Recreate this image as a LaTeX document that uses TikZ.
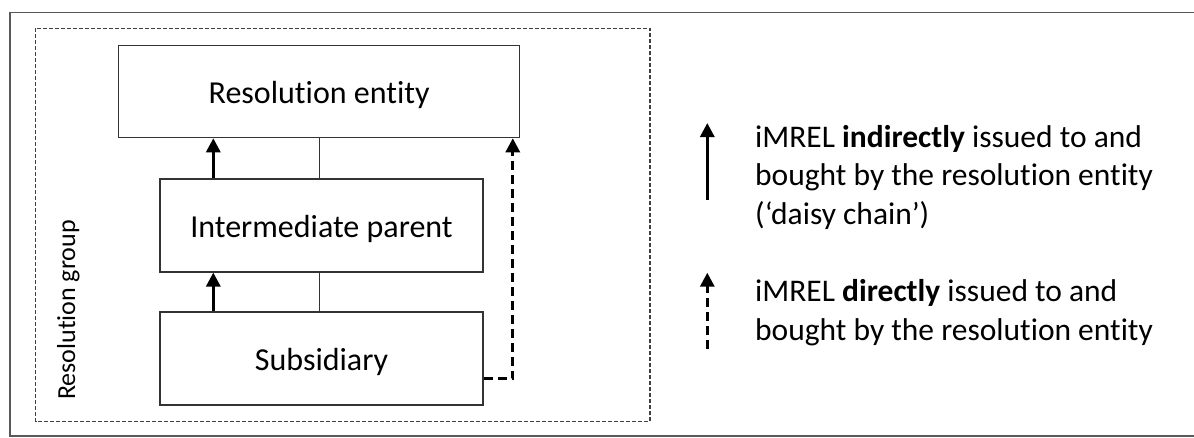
\documentclass[tikz,border=0pt]{standalone}
\usepackage{fontspec}
\setmainfont{Carlito}[Ligatures={NoCommon}]
\usetikzlibrary{arrows.meta}
\newcommand{\nti}{t\kern0pt i}
\tikzset{
  box/.style={draw=black!80, line width=1.5pt, rectangle, inner sep=0pt, text height=24pt, text depth=0pt, font=\fontsize{32}{38}\selectfont},
  thinline/.style={draw=black!80, line width=1.2pt},
  solidarrow/.style={draw=black, line width=3pt, -{Triangle[width=14pt,length=14pt]}},
  dasharrow/.style={draw=black, line width=3pt, dash pattern=on 9pt off 5pt, -{Triangle[width=14pt,length=14pt]}},
  groupbox/.style={draw=black!75, line width=1.3pt, dash pattern=on 4pt off 2pt},
  frame/.style={draw=black!65, line width=1.8pt},
  legendtext/.style={anchor=base west, align=left, inner sep=0pt, font=\fontsize{31.5}{38.5}\selectfont}
}
\begin{document}
\begin{tikzpicture}[x=1pt,y=-1pt]
\useasboundingbox (0,0) rectangle (1194,437);
% outer frame (open at right)
\draw[frame] (1194,12.5) -- (10,12.5) -- (10,436) -- (1194,436);
% resolution group
\draw[groupbox] (35.7,28.3) rectangle (650,421.7);
\node[rotate=90, anchor=base, inner sep=0pt, font=\fontsize{26}{30}\selectfont] (rg) at (75,310) {Resolu\nti on group};
% boxes
\node[box, minimum width=401pt, minimum height=92pt] (RE) at (319.2,91.5) {Resolu\nti on en\nti ty};
\node[box, minimum width=323pt, minimum height=93pt] (IP) at (321.5,225.3) {Intermediate parent};
\node[box, minimum width=323pt, minimum height=93pt] (SUB) at (321.5,358.5) {Subsidiary};
% thin connectors
\draw[thinline] (RE.south -| 319.5,0) -- (IP.north -| 319.5,0);
\draw[thinline] (IP.south -| 319.5,0) -- (SUB.north -| 319.5,0);
% daisy chain arrows
\draw[solidarrow] ([xshift=-108.2pt]IP.north) -- ([xshift=-108.2pt]IP.north |- RE.south);
\draw[solidarrow] ([xshift=-108.2pt]SUB.north) -- ([xshift=-108.2pt]SUB.north |- IP.south);
% direct arrow
\coordinate (dc) at (512.8,378.7);
\draw[dasharrow] (SUB.east |- dc) -- (dc) -- (dc |- RE.south);
% legend
\coordinate (l1a) at (707.3,200);
\coordinate (l1b) at (707.3,123);
\coordinate (l2a) at (707.3,349);
\coordinate (l2b) at (707.3,272.7);
\draw[solidarrow] (l1a) -- (l1b);
\draw[dasharrow] (l2a) -- (l2b);
\node[legendtext] (t1) at (755,224) {iMREL \textbf{indirectly} issued to and\\bought by the resolu\nti on en\nti ty\\(‘daisy chain’)};
\node[legendtext] (t2) at (755,340) {iMREL \textbf{directly} issued to and\\bought by the resolu\nti on en\nti ty};
\end{tikzpicture}
\end{document}
